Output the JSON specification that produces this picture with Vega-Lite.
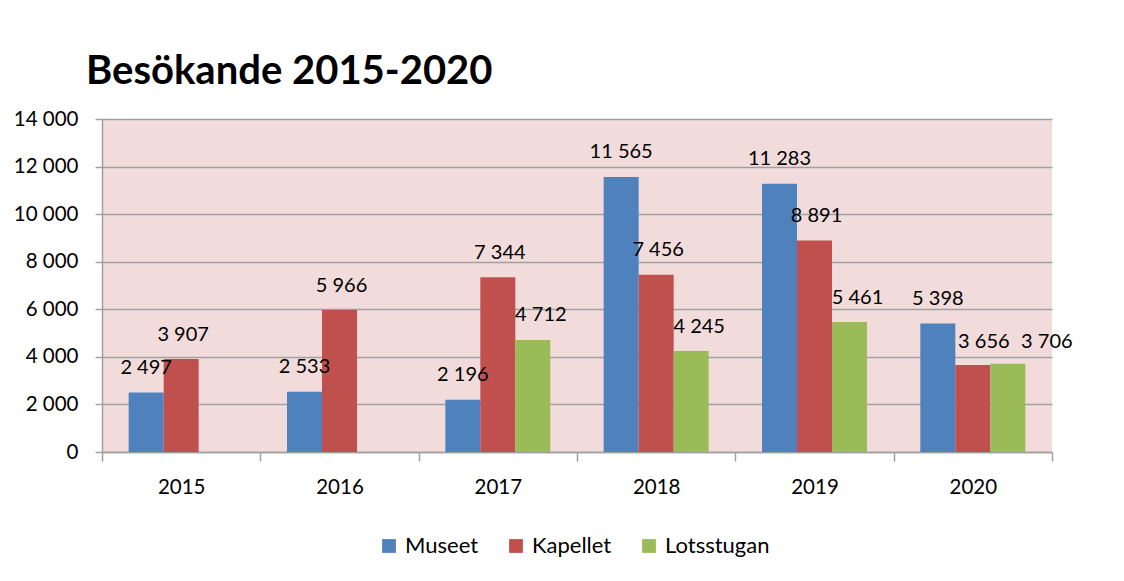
{
  "$schema": "https://vega.github.io/schema/vega-lite/v6.json",
  "autosize": {"type": "none"},
  "width": 950,
  "height": 333,
  "padding": {"left": 102, "top": 119, "right": 72, "bottom": 129},
  "background": "white",
  "title": {
    "text": "Besökande 2015-2020",
    "anchor": "start",
    "frame": "group",
    "dx": -16,
    "offset": 17,
    "font": "Lato",
    "fontSize": 40,
    "fontWeight": "bold",
    "color": "#000000"
  },
  "config": {
    "locale": {"number": {"decimal": ",", "thousands": " ", "grouping": [3], "currency": ["", " kr"]}},
    "view": {"fill": "#F2DCDB", "stroke": null},
    "font": "Lato"
  },
  "data": {
    "values": [
      {"year": "2015", "serie": "Museet", "value": 2497},
      {"year": "2015", "serie": "Kapellet", "value": 3907},
      {"year": "2016", "serie": "Museet", "value": 2533},
      {"year": "2016", "serie": "Kapellet", "value": 5966},
      {"year": "2017", "serie": "Museet", "value": 2196},
      {"year": "2017", "serie": "Kapellet", "value": 7344},
      {"year": "2017", "serie": "Lotsstugan", "value": 4712},
      {"year": "2018", "serie": "Museet", "value": 11565},
      {"year": "2018", "serie": "Kapellet", "value": 7456},
      {"year": "2018", "serie": "Lotsstugan", "value": 4245},
      {"year": "2019", "serie": "Museet", "value": 11283},
      {"year": "2019", "serie": "Kapellet", "value": 8891},
      {"year": "2019", "serie": "Lotsstugan", "value": 5461},
      {"year": "2020", "serie": "Museet", "value": 5398},
      {"year": "2020", "serie": "Kapellet", "value": 3656},
      {"year": "2020", "serie": "Lotsstugan", "value": 3706}
    ]
  },
  "encoding": {
    "x": {
      "field": "year",
      "type": "ordinal",
      "scale": {"paddingInner": 0, "paddingOuter": 0},
      "axis": {
        "title": null,
        "labelAngle": 0,
        "tickBand": "extent",
        "labelFont": "Lato",
        "labelFontSize": 20.5,
        "labelColor": "#000000",
        "labelPadding": 16,
        "tickSize": 9,
        "tickColor": "#A0A0A0",
        "tickWidth": 1.5,
        "domainColor": "#A0A0A0",
        "domainWidth": 1.5
      }
    },
    "xOffset": {
      "field": "serie",
      "type": "nominal",
      "scale": {"domain": ["Museet", "Kapellet", "Lotsstugan"], "paddingInner": 0, "paddingOuter": 0.7616}
    },
    "y": {
      "field": "value",
      "type": "quantitative",
      "scale": {"domain": [0, 14000]},
      "axis": {
        "title": null,
        "values": [0, 2000, 4000, 6000, 8000, 10000, 12000, 14000],
        "format": ",d",
        "labelFont": "Lato",
        "labelFontSize": 20.5,
        "labelColor": "#000000",
        "labelPadding": 17,
        "tickSize": 7,
        "tickColor": "#A0A0A0",
        "tickWidth": 1.5,
        "domainColor": "#A0A0A0",
        "domainWidth": 1.5,
        "grid": true,
        "gridColor": "#A0A0A0",
        "gridWidth": 1.5
      }
    }
  },
  "layer": [
    {
      "mark": {"type": "bar"},
      "encoding": {
        "color": {
          "field": "serie",
          "type": "nominal",
          "scale": {"domain": ["Museet", "Kapellet", "Lotsstugan"], "range": ["#4F81BD", "#C0504D", "#9BBB59"]},
          "legend": {
            "title": null,
            "orient": "none",
            "direction": "horizontal",
            "legendX": 276,
            "legendY": 416,
            "padding": 0,
            "symbolType": "square",
            "symbolSize": 190,
            "symbolStrokeWidth": 0,
            "labelFont": "Lato",
            "labelFontSize": 22,
            "labelColor": "#000000",
            "labelOffset": 5,
            "columnPadding": 26
          }
        }
      }
    },
    {
      "transform": [{"filter": "datum.serie === 'Museet'"}],
      "mark": {"type": "text", "baseline": "alphabetic", "dy": -18.5, "font": "Lato", "fontSize": 20, "color": "#000000"},
      "encoding": {"text": {"field": "value", "type": "quantitative", "format": ",d"}}
    },
    {
      "transform": [{"filter": "datum.serie === 'Kapellet' && datum.year !== '2020'"}],
      "mark": {"type": "text", "baseline": "alphabetic", "dy": -18.5, "dx": 2, "font": "Lato", "fontSize": 20, "color": "#000000"},
      "encoding": {"text": {"field": "value", "type": "quantitative", "format": ",d"}}
    },
    {
      "transform": [{"filter": "datum.serie === 'Kapellet' && datum.year === '2020'"}],
      "mark": {"type": "text", "baseline": "alphabetic", "dy": -17.5, "dx": 11, "font": "Lato", "fontSize": 20, "color": "#000000"},
      "encoding": {"text": {"field": "value", "type": "quantitative", "format": ",d"}}
    },
    {
      "transform": [{"filter": "datum.serie === 'Lotsstugan' && datum.year !== '2020'"}],
      "mark": {"type": "text", "baseline": "alphabetic", "dy": -18.5, "dx": 8, "font": "Lato", "fontSize": 20, "color": "#000000"},
      "encoding": {"text": {"field": "value", "type": "quantitative", "format": ",d"}}
    },
    {
      "transform": [{"filter": "datum.serie === 'Lotsstugan' && datum.year === '2020'"}],
      "mark": {"type": "text", "baseline": "alphabetic", "dy": -16, "dx": 39, "font": "Lato", "fontSize": 20, "color": "#000000"},
      "encoding": {"text": {"field": "value", "type": "quantitative", "format": ",d"}}
    }
  ]
}
